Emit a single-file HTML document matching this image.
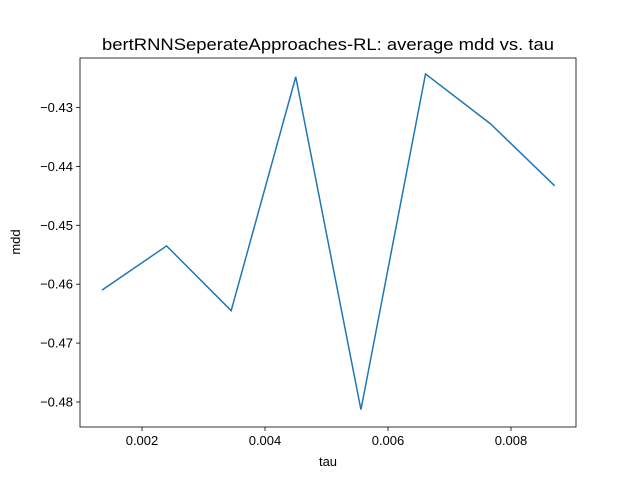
<!DOCTYPE html>
<html><head><meta charset="utf-8"><style>body{margin:0;background:#fff}svg{display:block;font-family:"Liberation Sans","DejaVu Sans",sans-serif}</style></head>
<body>
<svg id="c" width="640" height="480"></svg>
<script>
const taus=[0.00135,0.00240,0.00345,0.00450,0.00556,0.00661,0.00767,0.00871];
const mdd=[-0.4610,-0.4535,-0.4645,-0.4248,-0.4813,-0.4243,-0.4328,-0.4433];
const xTicks=[0.002,0.004,0.006,0.008];
const xTickLabels=["0.002","0.004","0.006","0.008"];
const yTicks=[-0.43,-0.44,-0.45,-0.46,-0.47,-0.48];
const yTickLabels=["−0.43","−0.44","−0.45","−0.46","−0.47","−0.48"];
const L=80,R=576,T=58,B=427;
const X=v=>142+(v-0.002)*61500;
const Y=v=>107.5+(-0.43-v)*5890;
const svg=document.getElementById('c');
const NS='http://www.w3.org/2000/svg';
function mk(t,a,p){const e=document.createElementNS(NS,t);for(const k in a)e.setAttribute(k,a[k]);(p||svg).appendChild(e);return e;}
const title=mk('text',{x:328,y:50,'text-anchor':'middle','font-size':17,textLength:452,lengthAdjust:'spacingAndGlyphs'});
title.textContent='bertRNNSeperateApproaches-RL: average mdd vs. tau';


xTicks.forEach((v,i)=>{const x=X(v);
 const l=mk('line',{x1:x,x2:x,y1:B,y2:B+4,stroke:'#000','stroke-width':0.8});
 
 
 const t=mk('text',{x:x,y:B+18,'text-anchor':'middle','font-size':13});t.textContent=xTickLabels[i];
 
 });
yTicks.forEach((v,i)=>{const y=Y(v);
 const l=mk('line',{x1:L-4,x2:L,y1:y,y2:y,stroke:'#000','stroke-width':0.8});
 
 
 const t=mk('text',{x:L-7,y:y+4.5,'text-anchor':'end','font-size':13});t.textContent=yTickLabels[i];
 
 });
const pts=taus.map((t,i)=>X(t)+','+Y(mdd[i])).join(' ');
const line=mk('polyline',{points:pts,fill:'none',stroke:'#1f77b4','stroke-width':1.5});


const fr=mk('rect',{x:L,y:T,width:R-L,height:B-T,fill:'none',stroke:'#000','stroke-width':0.8});


const xl=mk('text',{x:328,y:466,'text-anchor':'middle','font-size':13});xl.textContent='tau';


const yl=mk('text',{x:20,y:242,'text-anchor':'middle','font-size':13,transform:'rotate(-90 20 242)'});yl.textContent='mdd';


</script>
</body></html>
